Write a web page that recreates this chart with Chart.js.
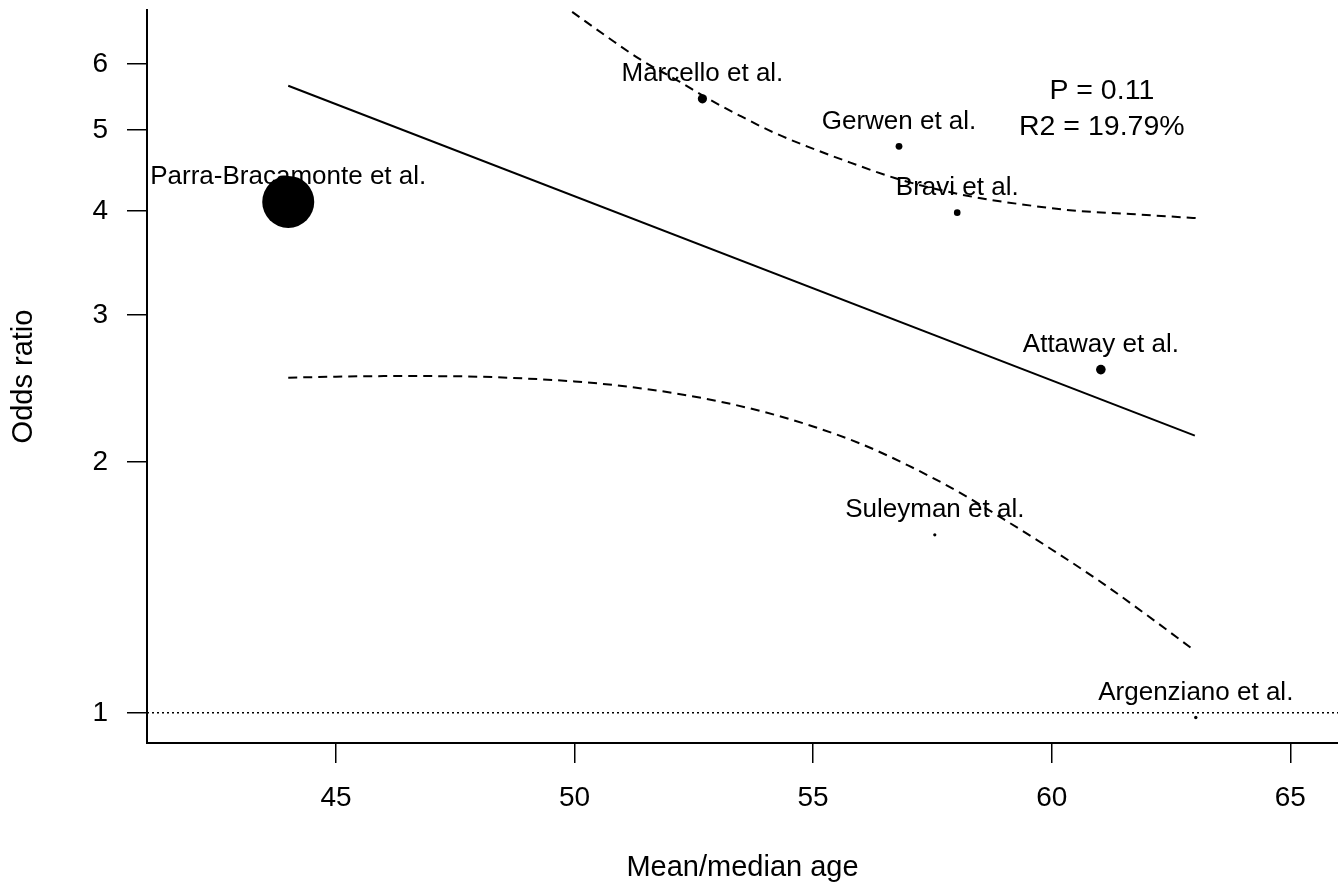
<!DOCTYPE html>
<html>
<head>
<meta charset="utf-8">
<script src="https://cdn.jsdelivr.net/npm/chart.js@4.4.1/dist/chart.umd.min.js"></script>
<style>
  html, body { margin: 0; padding: 0; background: #ffffff; }
  #wrap { width: 1338px; height: 888px; position: relative; }
</style>
</head>
<body>
<div id="wrap"><canvas id="c" width="1338" height="888"></canvas></div>
<script>
// ---- data ----
const studies = ['Parra-Bracamonte et al.', 'Marcello et al.', 'Gerwen et al.', 'Bravi et al.', 'Attaway et al.', 'Suleyman et al.', 'Argenziano et al.'];
const ages = [44.0, 52.68, 56.80, 58.02, 61.03, 57.55, 63.02];
const oddsRatios = [4.10, 5.45, 4.78, 3.98, 2.58, 1.635, 0.987];
const weights = [26, 4.6, 3.4, 3.3, 4.8, 1.6, 1.7];

const regAge = [44, 63];
const regOR = [5.65, 2.15];

const upperAge = [49.95, 50.68, 51.37, 52.21, 52.78, 53.47, 54.16, 54.87, 55.78, 56.82, 58.23, 59.61, 60.53, 61.65, 63.03];
const upperOR  = [6.93, 6.47, 6.08, 5.71, 5.46, 5.20, 4.97, 4.78, 4.57, 4.36, 4.17, 4.055, 4.00, 3.965, 3.92];

const lowerAge = [44, 45, 46, 47, 48, 49, 50, 51, 52, 53, 54, 55, 56, 57, 58, 59, 60, 61, 62, 63];
const lowerOR  = [2.523, 2.530, 2.534, 2.534, 2.530, 2.517, 2.497, 2.466, 2.422, 2.365, 2.293, 2.205, 2.102, 1.979, 1.847, 1.706, 1.570, 1.439, 1.309, 1.187];

const xTicks = [45, 50, 55, 60, 65];
const yTicks = [1, 2, 3, 4, 5, 6];
const refOR = 1;
const statsText = ['P = 0.11', 'R2 = 19.79%'];
const statsAge = 61.05;

// ---- chart ----
const FONT = '"Liberation Sans", Arial, Helvetica, sans-serif';

const pairs = (xs, ys) => xs.map((x, i) => ({ x: x, y: ys[i] }));

const noScalePadding = (s) => {
  s.paddingTop = 0; s.paddingBottom = 0; s.paddingLeft = 0; s.paddingRight = 0;
};

const overlayPlugin = {
  id: 'overlay',
  beforeDatasetsDraw(chart) {
    const ctx = chart.ctx, a = chart.chartArea;
    const y = chart.scales.y.getPixelForValue(refOR);
    ctx.save();
    ctx.strokeStyle = '#000';
    ctx.lineWidth = 1.5;
    ctx.setLineDash([2, 3]);
    ctx.beginPath();
    ctx.moveTo(a.left, y);
    ctx.lineTo(a.right, y);
    ctx.stroke();
    ctx.restore();
  },
  afterDatasetsDraw(chart) {
    const ctx = chart.ctx, a = chart.chartArea;
    const meta = chart.getDatasetMeta(0);
    ctx.save();
    ctx.fillStyle = '#000';
    ctx.textAlign = 'center';
    ctx.textBaseline = 'alphabetic';
    ctx.font = '26px ' + FONT;
    meta.data.forEach((el, i) => {
      ctx.fillText(studies[i], el.x, el.y - 17.5);
    });
    ctx.font = '28.5px ' + FONT;
    const sx = chart.scales.x.getPixelForValue(statsAge);
    ctx.fillText(statsText[0], sx, a.top + 89);
    ctx.fillText(statsText[1], sx, a.top + 125);
    ctx.restore();
  }
};

new Chart(document.getElementById('c'), {
  type: 'bubble',
  data: {
    datasets: [
      {
        type: 'bubble',
        data: ages.map((x, i) => ({ x: x, y: oddsRatios[i], r: weights[i] })),
        backgroundColor: '#000',
        borderWidth: 0,
        hoverRadius: 0
      },
      {
        type: 'line',
        data: pairs(regAge, regOR),
        borderColor: '#000',
        borderWidth: 2,
        pointRadius: 0,
        fill: false,
        tension: 0
      },
      {
        type: 'line',
        data: pairs(upperAge, upperOR),
        borderColor: '#000',
        borderWidth: 2,
        borderDash: [9, 6],
        pointRadius: 0,
        fill: false,
        cubicInterpolationMode: 'monotone'
      },
      {
        type: 'line',
        data: pairs(lowerAge, lowerOR),
        borderColor: '#000',
        borderWidth: 2,
        borderDash: [9, 6],
        pointRadius: 0,
        fill: false,
        cubicInterpolationMode: 'monotone'
      }
    ]
  },
  options: {
    responsive: false,
    devicePixelRatio: 1,
    animation: false,
    events: [],
    layout: { autoPadding: false, padding: { left: 0, right: 0, top: 10, bottom: 0 } },
    plugins: { legend: { display: false }, tooltip: { enabled: false } },
    scales: {
      x: {
        type: 'linear',
        position: 'bottom',
        min: 41.04,
        max: 66.0,
        afterBuildTicks: (s) => { s.ticks = xTicks.map(v => ({ value: v })); },
        afterFit: (s) => { s.height = 145; noScalePadding(s); },
        grid: { drawOnChartArea: false, drawTicks: true, tickLength: 20, color: '#000', lineWidth: 1.5 },
        border: { display: true, color: '#000', width: 2 },
        ticks: { color: '#000', font: { family: FONT, size: 28 }, padding: 18, maxRotation: 0, callback: (v) => String(v) },
        title: { display: true, text: 'Mean/median age', color: '#000', font: { family: FONT, size: 29 }, padding: { top: 0, bottom: 3 } }
      },
      y: {
        type: 'logarithmic',
        position: 'left',
        min: 0.92,
        max: 6.965,
        afterBuildTicks: (s) => { s.ticks = yTicks.map(v => ({ value: v })); },
        afterFit: (s) => { s.width = 147; noScalePadding(s); },
        grid: { drawOnChartArea: false, drawTicks: true, tickLength: 20, color: '#000', lineWidth: 1.5 },
        border: { display: true, color: '#000', width: 2 },
        ticks: { color: '#000', font: { family: FONT, size: 28 }, padding: 19, callback: (v) => String(v) },
        title: { display: true, text: 'Odds ratio', color: '#000', font: { family: FONT, size: 29 }, padding: { top: 7, bottom: 0 } }
      }
    }
  },
  plugins: [overlayPlugin]
});
</script>
</body>
</html>
